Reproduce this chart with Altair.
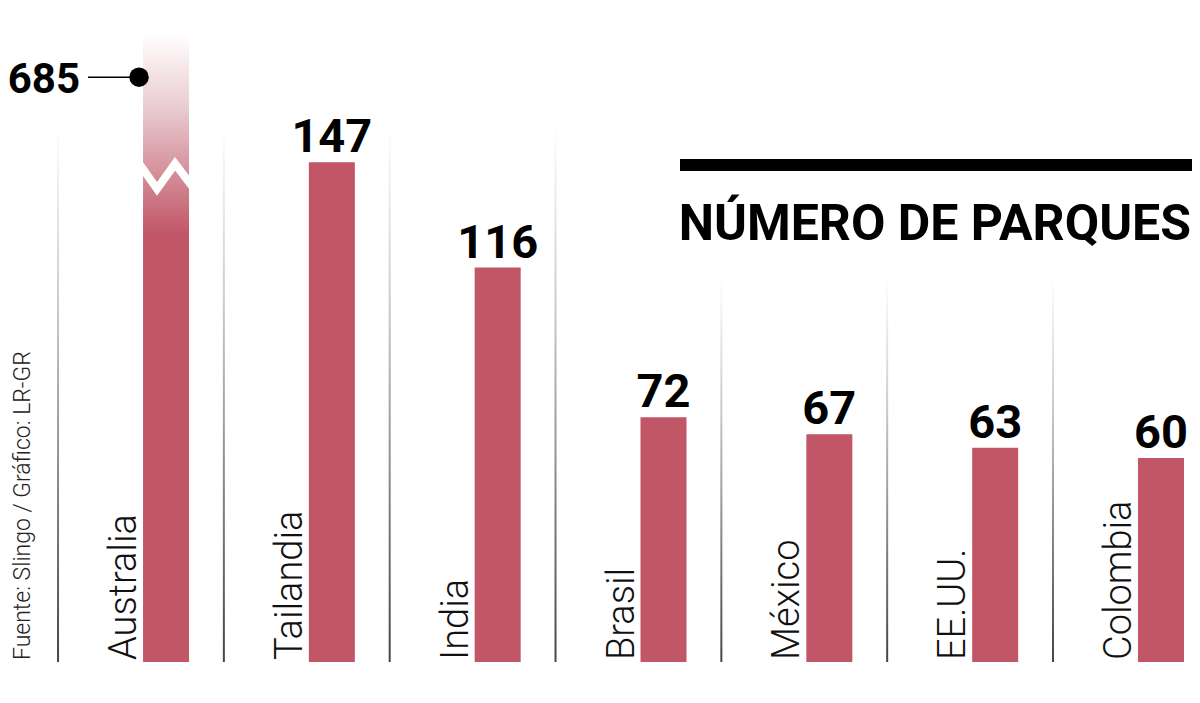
import altair as alt
import pandas as pd

# ---- data ----
countries = ["Australia", "Tailandia", "India", "Brasil", "México", "EE.UU.", "Colombia"]
values = [685, 147, 116, 72, 67, 63, 60]
separator_tops = [158, 158, 158, 158, 113, 113, 113]   # value level where each divider fades out
title = "NÚMERO DE PARQUES"
source = "Fuente: Slingo / Gráfico: LR-GR"

# ---- break settings for the out-of-scale bar ----
CAP = 185          # value at which the Australia bar is cut (fades out)
BREAK_LEVEL = 143  # value where the zig-zag break sits
MARK_LEVEL = 172   # value of the dot that points to the real value

BAR = "#C15667"
FONT = "Roboto, Liberation Sans Narrow, DejaVu Sans Condensed, sans-serif"
STEP = 165.83  # px per category

W, H = 1184, 687
xs = alt.Scale(domain=[-0.953, 6.187], nice=False, zero=False, padding=0)
ys = alt.Scale(domain=[-9.706, 192.35], nice=False, zero=False, padding=0)

df = pd.DataFrame({
    "pais": countries,
    "valor": values,
    "idx": list(range(len(countries))),
    "sep_top": separator_tops,
})
df["shown"] = df["valor"].clip(upper=CAP)
df["sep_x"] = df["idx"] - 108 / STEP
df["lab_x"] = df["idx"] - 30 / STEP
df["label"] = df["valor"].astype(str)
df["zero"] = 0
df["brk"] = BREAK_LEVEL
df["mark"] = MARK_LEVEL
df["dot_x"] = df["idx"] - 27 / STEP
df["line_x2"] = df["idx"] - 78 / STEP

base = alt.Chart(df)
rest = base.transform_filter("datum.valor <= datum.shown")
big = base.transform_filter("datum.valor > datum.shown")

sep_grad = alt.Gradient(
    gradient="linear", x1=0, x2=0, y1=0, y2=1,
    stops=[alt.GradientStop(color="#ffffff", offset=0),
           alt.GradientStop(color="#c8c8c8", offset=0.35),
           alt.GradientStop(color="#444444", offset=1)],
)
separators = base.mark_bar(size=2, fill=sep_grad).encode(
    x=alt.X("sep_x:Q", scale=xs, axis=None),
    y=alt.Y("sep_top:Q", scale=ys, axis=None),
    y2="zero:Q",
)

bars = rest.mark_bar(size=46, color=BAR).encode(
    x=alt.X("idx:Q", scale=xs, axis=None),
    y=alt.Y("shown:Q", scale=ys, axis=None),
    y2="zero:Q",
)

fade = alt.Gradient(
    gradient="linear", x1=0, x2=0, y1=0, y2=1,
    stops=[alt.GradientStop(color="#ffffff", offset=0),
           alt.GradientStop(color="#e9cbd0", offset=0.12),
           alt.GradientStop(color=BAR, offset=0.32),
           alt.GradientStop(color=BAR, offset=1)],
)
big_bar = big.mark_bar(size=46, fill=fade).encode(
    x=alt.X("idx:Q", scale=xs, axis=None),
    y=alt.Y("shown:Q", scale=ys, axis=None),
    y2="zero:Q",
)

zigzag = big.mark_point(
    shape="M -1.2 -0.66 L -0.36 0.52 L 0.36 -0.48 L 1.2 0.62",
    size=2500, filled=False, color="white", strokeWidth=8, opacity=1,
    strokeJoin="miter",
).encode(
    x=alt.X("idx:Q", scale=xs, axis=None),
    y=alt.Y("brk:Q", scale=ys, axis=None),
)

pointer = big.mark_rule(color="black", strokeWidth=1.5).encode(
    x=alt.X("line_x2:Q", scale=xs, axis=None),
    x2="dot_x:Q",
    y=alt.Y("mark:Q", scale=ys, axis=None),
)
dot = big.mark_point(filled=True, color="black", size=380, opacity=1).encode(
    x=alt.X("dot_x:Q", scale=xs, axis=None),
    y=alt.Y("mark:Q", scale=ys, axis=None),
)
big_label = big.mark_text(
    font=FONT, fontWeight="bold", fontSize=42, align="right",
    baseline="alphabetic", dx=-8, dy=16, color="black",
).encode(
    x=alt.X("line_x2:Q", scale=xs, axis=None),
    y=alt.Y("mark:Q", scale=ys, axis=None),
    text="label:N",
)

value_labels = rest.mark_text(
    font=FONT, fontWeight="bold", fontSize=47, align="center",
    baseline="alphabetic", dy=-10, color="black",
).encode(
    x=alt.X("idx:Q", scale=xs, axis=None),
    y=alt.Y("shown:Q", scale=ys, axis=None),
    text="label:N",
)

country_labels = base.mark_text(
    font=FONT, fontWeight=300, fontSize=38, angle=270, align="left",
    baseline="alphabetic", dx=2, color="#111111",
).encode(
    x=alt.X("lab_x:Q", scale=xs, axis=None),
    y=alt.Y("zero:Q", scale=ys, axis=None),
    text="pais:N",
)

src = alt.Chart(pd.DataFrame({"t": [source]})).mark_text(
    font=FONT, fontWeight=300, fontSize=23, angle=270, align="left",
    baseline="alphabetic", color="#222222",
).encode(x=alt.value(22), y=alt.value(652), text="t:N")

title_rule = alt.Chart(pd.DataFrame({"t": [title]})).mark_rule(
    color="black", strokeWidth=12
).encode(x=alt.value(672), x2=alt.value(1184), y=alt.value(157))

title_text = alt.Chart(pd.DataFrame({"t": [title]})).mark_text(
    font=FONT, fontWeight="bold", fontSize=50, align="right",
    baseline="alphabetic", color="black",
).encode(x=alt.value(1183), y=alt.value(232), text="t:N")

chart = alt.layer(
    separators, bars, big_bar, zigzag, pointer, dot, big_label,
    value_labels, country_labels, src, title_rule, title_text,
).properties(
    width=W, height=H, padding=0,
    autosize=alt.AutoSizeParams(type="none"),
    background="white",
).configure_view(stroke=None)

chart.save("out.html", embed_options={"renderer": "svg", "actions": False})
